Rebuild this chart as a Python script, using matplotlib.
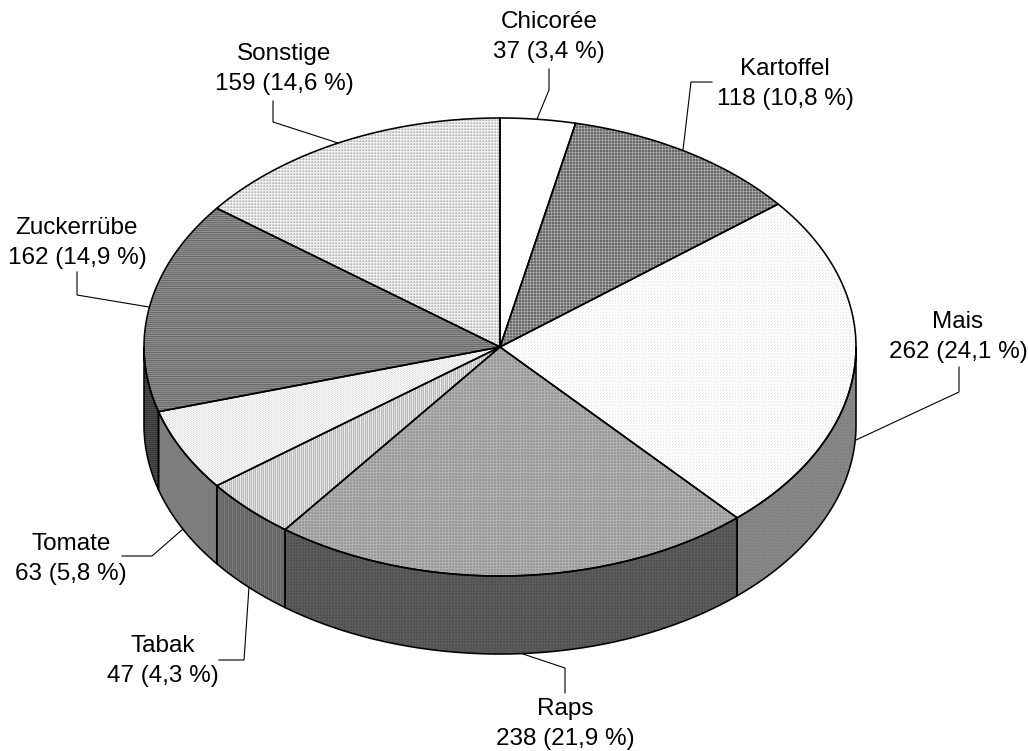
import numpy as np
import matplotlib
matplotlib.use("Agg")
import matplotlib.pyplot as plt
from matplotlib.patches import Polygon

plt.rcParams['font.family'] = ['Liberation Sans', 'DejaVu Sans']

# Anbauflächen je Kultur, im Uhrzeigersinn ab 12 Uhr
kulturen = ["Chicorée", "Kartoffel", "Mais", "Raps", "Tabak", "Tomate", "Zuckerrübe", "Sonstige"]
werte = [37, 118, 262, 238, 47, 63, 162, 159]
anteile = ["3,4", "10,8", "24,1", "21,9", "4,3", "5,8", "14,9", "14,6"]

# Geometrie der Scheibe in Pixeln
CX, CY, RX, RY, TIEFE = 500.0, 347.0, 356.0, 229.0, 78.0
WAND_FAKTOR = 0.53

# Graustufen-Kacheln der Füllmuster, je Kultur
muster = {
    "Chicorée": [[1.0]],
    "Kartoffel": [[.42, .42, .58], [.42, .42, .58], [.58, .58, .72]],
    "Mais": [[.88, 1, 1], [1, 1, 1], [1, .94, 1]],
    "Raps": [[.56, .68, .62], [.68, .70, .68], [.62, .68, .60]],
    "Tabak": [[.90, .72, .86, .74], [.93, .74, .84, .72]],
    "Tomate": [[.98, .86, .95], [.92, .98, .90], [.98, .86, .95], [.92, .98, .90]],
    "Zuckerrübe": [[.42], [.54], [.44], [.56], [.40], [.58]],
    "Sonstige": [[.72, .90, .78], [.94, .94, .94], [.78, .94, .84]],
}

# Beschriftungen: Textmitte und Führungslinie
label_pos = {
    "Chicorée": (549, 37), "Kartoffel": (785, 84), "Mais": (958, 337), "Raps": (565, 724),
    "Tabak": (163, 661), "Tomate": (71, 559), "Zuckerrübe": (77, 243), "Sonstige": (284, 69),
}
leader = {
    "Chicorée": [(549, 69), (549, 90), (537, 119)],
    "Kartoffel": [(712, 82), (691, 82), (683, 150)],
    "Mais": [(959, 367), (959, 392), (856, 440)],
    "Raps": [(520, 653), (565, 668), (565, 693)],
    "Tabak": [(219, 660), (244, 660), (249, 587)],
    "Tomate": [(122, 556), (152, 556), (183, 529)],
    "Zuckerrübe": [(77, 272), (77, 295), (149, 307)],
    "Sonstige": [(273, 101), (273, 122), (338, 143)],
}

W, H = 1028, 751
fig = plt.figure(figsize=(W / 100, H / 100), dpi=100, facecolor="white")
ax = fig.add_axes([0, 0, 1, 1])
ax.set_xlim(0, W)
ax.set_ylim(H, 0)
ax.axis("off")


def rand(t, dy=0.0):
    return np.column_stack([CX + RX * np.sin(t), CY - RY * np.cos(t) + dy])


def textur(kachel, faktor=1.0):
    k = np.array(kachel, dtype=float) * faktor
    ny, nx = k.shape
    return np.tile(k, (H // ny + 1, W // nx + 1))[:H, :W]


def fuellen(punkte, kachel, faktor=1.0):
    umriss = Polygon(punkte, closed=True, fc="none", ec="black", lw=1.15,
                     joinstyle="round", zorder=3)
    ax.add_patch(umriss)
    bild = ax.imshow(textur(kachel, faktor), cmap="gray", vmin=0, vmax=1,
                     extent=(0, W, H, 0), interpolation="nearest", aspect="auto", zorder=2)
    bild.set_clip_path(umriss)


grenzen = np.cumsum([0] + werte) / sum(werte) * 2 * np.pi

# Außenwand: nur die vordere Hälfte der Scheibe ist sichtbar
for name, a, b in zip(kulturen, grenzen[:-1], grenzen[1:]):
    von, bis = max(a, np.pi / 2), min(b, 3 * np.pi / 2)
    if von < bis:
        t = np.linspace(von, bis, 200)
        fuellen(np.vstack([rand(t), rand(t[::-1], TIEFE)]), muster[name], WAND_FAKTOR)

# Deckfläche
for name, a, b in zip(kulturen, grenzen[:-1], grenzen[1:]):
    t = np.linspace(a, b, 200)
    fuellen(np.vstack([[CX, CY], rand(t)]), muster[name])

# Führungslinien und Beschriftungen
for name, wert, anteil in zip(kulturen, werte, anteile):
    xs, ys = zip(*leader[name])
    ax.plot(xs, ys, color="black", lw=0.8, zorder=1, solid_joinstyle="miter")
    x, y = label_pos[name]
    ax.text(x, y, f"{name}\n{wert} ({anteil} %)", ha="center", va="center",
            fontsize=17.5, linespacing=1.5, color="black", zorder=4)

ax.set_xlim(0, W)
ax.set_ylim(H, 0)
fig.savefig("out.png", dpi=100, facecolor="white")
